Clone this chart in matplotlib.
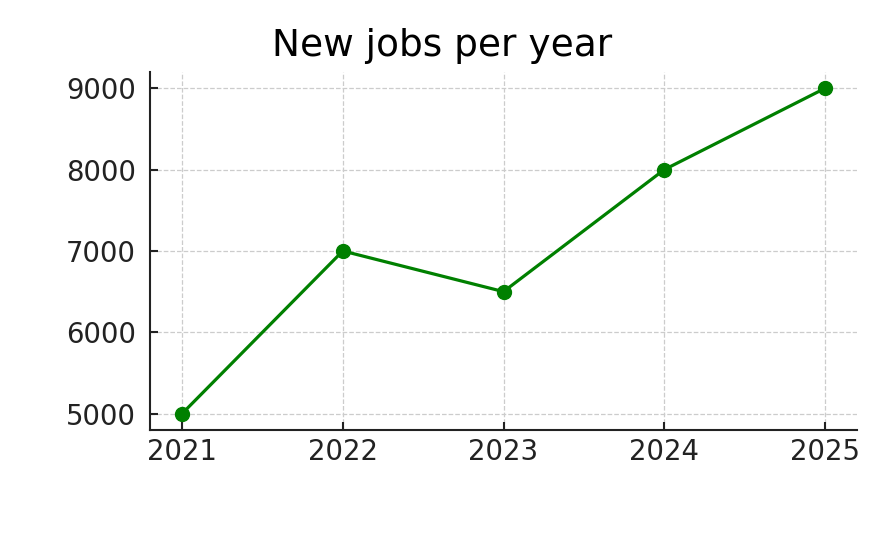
import matplotlib
matplotlib.use("Agg")
import matplotlib.pyplot as plt

years = [2021, 2022, 2023, 2024, 2025]
jobs = [5000, 7000, 6500, 8000, 9000]
y_ticks = [5000, 6000, 7000, 8000, 9000]

plt.rcParams["font.family"] = ["DejaVu Sans"]

fig = plt.figure(figsize=(8.9, 5.34), dpi=100)
ax = fig.add_axes([0.1685, 0.195, 0.7945, 0.67])

ax.plot(years, jobs, color="green", linewidth=2.3, marker="o", markersize=10)

ax.set_xticks(years)
ax.set_yticks(y_ticks)
ax.grid(True, linestyle="--", color="#cccccc", linewidth=0.9)
ax.set_axisbelow(True)

for side in ["top", "right"]:
    ax.spines[side].set_visible(False)
for side in ["left", "bottom"]:
    ax.spines[side].set_linewidth(1.5)
    ax.spines[side].set_color("#222222")

ax.tick_params(direction="in", length=6, width=1.5, labelsize=19.8,
               colors="#222222")
ax.tick_params(axis="x", pad=6)
ax.tick_params(axis="y", pad=10)

fig.text(0.497, 0.895, "New jobs per year", ha="center", va="baseline",
         fontsize=27, family="DejaVu Sans", color="black")

fig.savefig("out.png", dpi=100)
